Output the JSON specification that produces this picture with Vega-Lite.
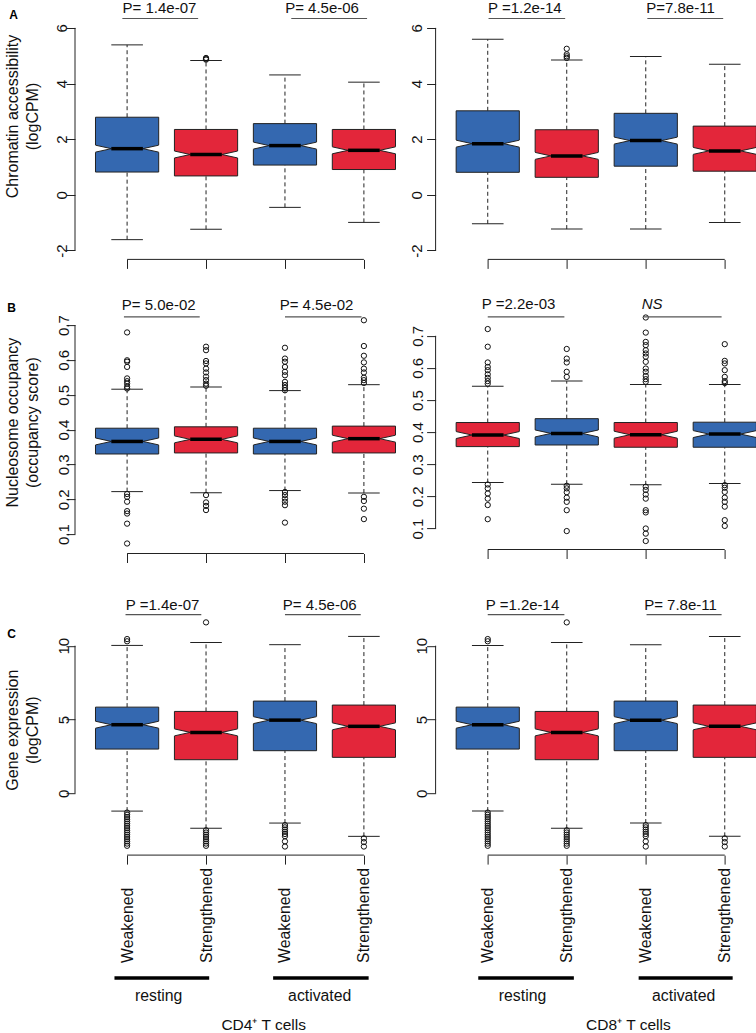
{
"$schema": "https://vega.github.io/schema/vega-lite/v6.json",
"background": "white",
"padding": {"left": 4, "top": 0, "right": 0, "bottom": 0},
"config": {"view": {"stroke": null}, "font": "Liberation Sans", "scale": {"continuousPadding": 0}, "axis": {"labelFont": "Liberation Sans", "titleFont": "Liberation Sans", "labelOverlap": false}},
"datasets": {
"boxes": [
{"panel":"AL","pos":1,"grp":"W","lower":-1.61,"q1":0.82,"med":1.66,"q3":2.79,"upper":5.39},
{"panel":"AL","pos":2,"grp":"S","lower":-1.24,"q1":0.68,"med":1.45,"q3":2.35,"upper":4.83},
{"panel":"AL","pos":3,"grp":"W","lower":-0.45,"q1":1.07,"med":1.77,"q3":2.56,"upper":4.31},
{"panel":"AL","pos":4,"grp":"S","lower":-0.99,"q1":0.91,"med":1.60,"q3":2.35,"upper":4.05},
{"panel":"AR","pos":1,"grp":"W","lower":-1.04,"q1":0.81,"med":1.84,"q3":3.02,"upper":5.59},
{"panel":"AR","pos":2,"grp":"S","lower":-1.23,"q1":0.63,"med":1.40,"q3":2.34,"upper":4.85},
{"panel":"AR","pos":3,"grp":"W","lower":-1.23,"q1":1.03,"med":1.95,"q3":2.93,"upper":4.97},
{"panel":"AR","pos":4,"grp":"S","lower":-0.99,"q1":0.85,"med":1.58,"q3":2.47,"upper":4.69},
{"panel":"BL","pos":1,"grp":"W","lower":0.222,"q1":0.330,"med":0.366,"q3":0.404,"upper":0.516},
{"panel":"BL","pos":2,"grp":"S","lower":0.219,"q1":0.333,"med":0.372,"q3":0.408,"upper":0.522},
{"panel":"BL","pos":3,"grp":"W","lower":0.225,"q1":0.330,"med":0.366,"q3":0.404,"upper":0.512},
{"panel":"BL","pos":4,"grp":"S","lower":0.218,"q1":0.333,"med":0.374,"q3":0.410,"upper":0.529},
{"panel":"BR","pos":1,"grp":"W","lower":0.243,"q1":0.355,"med":0.391,"q3":0.430,"upper":0.543},
{"panel":"BR","pos":2,"grp":"S","lower":0.238,"q1":0.360,"med":0.396,"q3":0.442,"upper":0.559},
{"panel":"BR","pos":3,"grp":"W","lower":0.236,"q1":0.353,"med":0.392,"q3":0.430,"upper":0.548},
{"panel":"BR","pos":4,"grp":"S","lower":0.240,"q1":0.353,"med":0.394,"q3":0.431,"upper":0.548},
{"panel":"C","pos":1,"grp":"W","lower":-1.20,"q1":3.00,"med":4.65,"q3":5.84,"upper":10.02},
{"panel":"C","pos":2,"grp":"S","lower":-2.37,"q1":2.28,"med":4.13,"q3":5.55,"upper":10.22},
{"panel":"C","pos":3,"grp":"W","lower":-2.01,"q1":2.89,"med":4.96,"q3":6.25,"upper":10.07},
{"panel":"C","pos":4,"grp":"S","lower":-2.91,"q1":2.44,"med":4.54,"q3":5.98,"upper":10.63}
],
"outliers": [
{"panel":"AL","pos":2,"v":[4.86,4.89,4.92]},
{"panel":"AR","pos":2,"v":[5.25,5.05,4.98,4.92]},
{"panel":"BL","pos":1,"v":[0.679,0.599,0.595,0.580,0.547,0.539,0.532,0.523,0.518,0.215,0.207,0.193,0.166,0.159,0.130,0.073]},
{"panel":"BL","pos":2,"v":[0.638,0.628,0.597,0.590,0.575,0.564,0.552,0.542,0.532,0.526,0.212,0.191,0.181,0.169]},
{"panel":"BL","pos":3,"v":[0.635,0.604,0.595,0.580,0.566,0.556,0.537,0.528,0.520,0.513,0.221,0.212,0.202,0.193,0.183,0.133]},
{"panel":"BL","pos":4,"v":[0.714,0.640,0.612,0.593,0.575,0.564,0.549,0.542,0.534,0.207,0.195,0.173,0.143]},
{"panel":"BR","pos":1,"v":[0.721,0.666,0.617,0.603,0.593,0.580,0.569,0.559,0.551,0.237,0.225,0.209,0.193,0.173,0.129]},
{"panel":"BR","pos":2,"v":[0.659,0.629,0.617,0.588,0.572,0.233,0.225,0.213,0.196,0.183,0.157,0.092]},
{"panel":"BR","pos":3,"v":[0.757,0.710,0.681,0.671,0.655,0.645,0.635,0.619,0.598,0.588,0.575,0.565,0.557,0.230,0.220,0.206,0.193,0.157,0.150,0.100,0.084,0.061]},
{"panel":"BR","pos":4,"v":[0.674,0.622,0.614,0.593,0.572,0.559,0.553,0.235,0.227,0.214,0.196,0.183,0.168,0.126,0.108]},
{"panel":"C","pos":1,"v":[10.3,10.45,-1.3,-1.45,-1.6,-1.75,-1.9,-2.05,-2.2,-2.35,-2.5,-2.65,-2.8,-2.95,-3.1,-3.25,-3.4,-3.55]},
{"panel":"C","pos":2,"v":[11.58,-2.5,-2.65,-2.8,-2.95,-3.1,-3.25,-3.4,-3.55]},
{"panel":"C","pos":3,"v":[-2.15,-2.3,-2.45,-2.6,-2.75,-2.9,-3.25,-3.6]},
{"panel":"C","pos":4,"v":[-3.05,-3.3,-3.6]}
],
"pvals": [
{"panel":"AL","x1":0.94,"x2":1.90,"xm":1.41,"label":"P= 1.4e-07"},
{"panel":"AL","x1":3.08,"x2":4.04,"xm":3.47,"label":"P= 4.5e-06"},
{"panel":"AR","x1":1.01,"x2":1.98,"xm":1.47,"label":"P =1.2e-14"},
{"panel":"AR","x1":3.02,"x2":3.98,"xm":3.44,"label":"P=7.8e-11"},
{"panel":"BL","x1":0.96,"x2":1.92,"xm":1.40,"label":"P= 5.0e-02"},
{"panel":"BL","x1":3.00,"x2":3.97,"xm":3.40,"label":"P= 4.5e-02"},
{"panel":"BR","x1":1.00,"x2":1.97,"xm":1.39,"label":"P =2.2e-03"},
{"panel":"BR","x1":2.97,"x2":3.96,"xm":3.08,"label":"NS"},
{"panel":"CL","x1":0.98,"x2":1.94,"xm":1.45,"label":"P =1.4e-07"},
{"panel":"CL","x1":3.00,"x2":3.96,"xm":3.44,"label":"P= 4.5e-06"},
{"panel":"CR","x1":1.00,"x2":1.97,"xm":1.44,"label":"P =1.2e-14"},
{"panel":"CR","x1":3.01,"x2":3.96,"xm":3.44,"label":"P= 7.8e-11"}
],
"groups": [
{"panel":"CL","x1":0.84,"x2":2.04,"xm":1.40,"label":"resting"},
{"panel":"CL","x1":2.85,"x2":4.06,"xm":3.44,"label":"activated"},
{"panel":"CR","x1":0.88,"x2":2.09,"xm":1.44,"label":"resting"},
{"panel":"CR","x1":2.91,"x2":4.10,"xm":3.48,"label":"activated"}
],
"cells": [
{"panel":"CL","xm":2.73,"label":"CD4⁺ T cells"},
{"panel":"CR","xm":2.78,"label":"CD8⁺ T cells"}
]
},
"columns": 2,
"spacing": {"row": 53.1, "column": 19.6},
"bounds": "flush",
"align": "each",
"concat": [
{"width": 341, "height": 240.4, "layer": [
{"data":{"name":"boxes"},"transform":[{"filter":"datum.panel=='AL'"}],"mark":{"type":"rule","strokeDash":[4,3],"color":"#222","strokeWidth":1},
 "encoding":{"x":{"field":"pos","type":"quantitative","scale":{"domain":[0.34,4.66],"nice":false,"zero":false,"padding":0},"axis":{"values":[1,2,3,4],"domain":false,"grid":false,"ticks":true,"tickSize":9,"tickColor":"#222","labels":false,"title":null}},
 "y":{"field":"q3","type":"quantitative","scale":{"domain":[-2.32,6.32],"nice":false,"zero":false,"padding":0},"axis":{"values":[-2,0,2,4,6],"tickCount":20,"format":"d","labelExpr":"datum.value < 0 ? '-' + (-datum.value) : datum.label","domain":false,"grid":false,"tickSize":9,"tickColor":"#222","labelAngle":-90,"labelAlign":"center","labelBaseline":"bottom","labelPadding":-3,"labelFontSize":15,"labelColor":"#111","labelFlush":false,"labelOverlap":false,"labelBound":false,"title":["Chromatin accessibility","(logCPM)"],"titleFontSize":16,"titleFontWeight":"normal","titleColor":"#111","titleAngle":-90,"titleAlign":"center","titleBaseline":"middle","titleX":-62.4,"titleY":97,"titleLineHeight":20}},
 "y2":{"field":"upper"}}},
{"data":{"name":"boxes"},"transform":[{"filter":"datum.panel=='AL'"}],"mark":{"type":"rule","strokeDash":[4,3],"color":"#222","strokeWidth":1},"encoding":{"x":{"field":"pos","type":"quantitative"},"y":{"field":"lower","type":"quantitative"},"y2":{"field":"q1"}}},
{"data":{"name":"boxes"},"transform":[{"filter":"datum.panel=='AL'"}],"mark":{"type":"tick","orient":"horizontal","size":31.6,"thickness":1,"color":"#222","opacity":1},"encoding":{"x":{"field":"pos","type":"quantitative"},"y":{"field":"upper","type":"quantitative"}}},
{"data":{"name":"boxes"},"transform":[{"filter":"datum.panel=='AL'"}],"mark":{"type":"tick","orient":"horizontal","size":31.6,"thickness":1,"color":"#222","opacity":1},"encoding":{"x":{"field":"pos","type":"quantitative"},"y":{"field":"lower","type":"quantitative"}}},
{"data":{"name":"boxes"},"transform":[{"filter":"datum.panel=='AL' && datum.grp=='W'"}],"mark":{"type":"bar","width":63.2,"fill":"#3468B0","stroke":"#222","strokeWidth":1},"encoding":{"x":{"field":"pos","type":"quantitative"},"y":{"field":"q1","type":"quantitative"},"y2":{"field":"q3"}}},
{"data":{"name":"boxes"},"transform":[{"filter":"datum.panel=='AL' && datum.grp=='S'"}],"mark":{"type":"bar","width":63.2,"fill":"#E3263A","stroke":"#222","strokeWidth":1},"encoding":{"x":{"field":"pos","type":"quantitative"},"y":{"field":"q1","type":"quantitative"},"y2":{"field":"q3"}}},
{"data":{"name":"boxes"},"transform":[{"filter":"datum.panel=='AL'"}],"mark":{"type":"point","shape":"M-1.04,-0.12L-0.5,0L-1.04,0.12Z M1.04,-0.12L0.5,0L1.04,0.12Z","size":3994,"filled":true,"fill":"white","strokeWidth":0,"opacity":1},"encoding":{"x":{"field":"pos","type":"quantitative"},"y":{"field":"med","type":"quantitative"}}},
{"data":{"name":"boxes"},"transform":[{"filter":"datum.panel=='AL'"}],"mark":{"type":"point","shape":"M-1,-0.11L-0.5,0L-1,0.11M1,-0.11L0.5,0L1,0.11","size":3994,"filled":false,"stroke":"#222","strokeWidth":1,"opacity":1},"encoding":{"x":{"field":"pos","type":"quantitative"},"y":{"field":"med","type":"quantitative"}}},
{"data":{"name":"boxes"},"transform":[{"filter":"datum.panel=='AL'"}],"mark":{"type":"tick","orient":"horizontal","size":31.6,"thickness":3.5,"color":"#000","opacity":1},"encoding":{"x":{"field":"pos","type":"quantitative"},"y":{"field":"med","type":"quantitative"}}},
{"data":{"name":"outliers"},"transform":[{"filter":"datum.panel=='AL'"},{"flatten":["v"]}],"mark":{"type":"point","shape":"circle","filled":false,"size":28,"stroke":"#111","strokeWidth":1,"opacity":1},"encoding":{"x":{"field":"pos","type":"quantitative"},"y":{"field":"v","type":"quantitative"}}},
{"data":{"name":"pvals"},"transform":[{"filter":"datum.panel=='AL'"}],"mark":{"type":"rule","color":"#555","strokeWidth":1.2},"encoding":{"x":{"field":"x1","type":"quantitative"},"x2":{"field":"x2"},"y":{"datum":6.338}}},
{"data":{"name":"pvals"},"transform":[{"filter":"datum.panel=='AL' && datum.label!='NS'"}],"mark":{"type":"text","fontSize":15,"align":"center","baseline":"middle","color":"#111"},"encoding":{"x":{"field":"xm","type":"quantitative"},"y":{"datum":6.718},"text":{"field":"label"}}},
{"data":{"values":[{}]},"mark":{"type":"rule","color":"#222","strokeWidth":1},"encoding":{"x":{"datum":0.34},"y":{"datum":-2},"y2":{"datum":6}}},
{"data":{"values":[{}]},"mark":{"type":"rule","color":"#222","strokeWidth":1},"encoding":{"x":{"datum":1},"x2":{"datum":4},"y":{"datum":-2.32}}},
{"data":{"values":[{}]},"mark":{"type":"text","text":"A","fontSize":12,"fontWeight":"bold","align":"center","baseline":"middle","color":"#000"},"encoding":{"x":{"datum":-0.437},"y":{"datum":6.449}}}
]},
{"width": 321, "height": 240.4, "layer": [
{"data":{"name":"boxes"},"transform":[{"filter":"datum.panel=='AR'"}],"mark":{"type":"rule","strokeDash":[4,3],"color":"#222","strokeWidth":1},
 "encoding":{"x":{"field":"pos","type":"quantitative","scale":{"domain":[0.34,4.403],"nice":false,"zero":false,"padding":0},"axis":{"values":[1,2,3,4],"domain":false,"grid":false,"ticks":true,"tickSize":9,"tickColor":"#222","labels":false,"title":null}},
 "y":{"field":"q3","type":"quantitative","scale":{"domain":[-2.32,6.32],"nice":false,"zero":false,"padding":0},"axis":{"values":[-2,0,2,4,6],"tickCount":20,"format":"d","labelExpr":"datum.value < 0 ? '-' + (-datum.value) : datum.label","domain":false,"grid":false,"tickSize":9,"tickColor":"#222","labelAngle":-90,"labelAlign":"center","labelBaseline":"bottom","labelPadding":2,"labelFontSize":15,"labelColor":"#111","labelFlush":false,"labelOverlap":false,"labelBound":false,"title":null}},
 "y2":{"field":"upper"}}},
{"data":{"name":"boxes"},"transform":[{"filter":"datum.panel=='AR'"}],"mark":{"type":"rule","strokeDash":[4,3],"color":"#222","strokeWidth":1},"encoding":{"x":{"field":"pos","type":"quantitative"},"y":{"field":"lower","type":"quantitative"},"y2":{"field":"q1"}}},
{"data":{"name":"boxes"},"transform":[{"filter":"datum.panel=='AR'"}],"mark":{"type":"tick","orient":"horizontal","size":31.6,"thickness":1,"color":"#222","opacity":1},"encoding":{"x":{"field":"pos","type":"quantitative"},"y":{"field":"upper","type":"quantitative"}}},
{"data":{"name":"boxes"},"transform":[{"filter":"datum.panel=='AR'"}],"mark":{"type":"tick","orient":"horizontal","size":31.6,"thickness":1,"color":"#222","opacity":1},"encoding":{"x":{"field":"pos","type":"quantitative"},"y":{"field":"lower","type":"quantitative"}}},
{"data":{"name":"boxes"},"transform":[{"filter":"datum.panel=='AR' && datum.grp=='W'"}],"mark":{"type":"bar","width":63.2,"fill":"#3468B0","stroke":"#222","strokeWidth":1},"encoding":{"x":{"field":"pos","type":"quantitative"},"y":{"field":"q1","type":"quantitative"},"y2":{"field":"q3"}}},
{"data":{"name":"boxes"},"transform":[{"filter":"datum.panel=='AR' && datum.grp=='S'"}],"mark":{"type":"bar","width":63.2,"fill":"#E3263A","stroke":"#222","strokeWidth":1},"encoding":{"x":{"field":"pos","type":"quantitative"},"y":{"field":"q1","type":"quantitative"},"y2":{"field":"q3"}}},
{"data":{"name":"boxes"},"transform":[{"filter":"datum.panel=='AR'"}],"mark":{"type":"point","shape":"M-1.04,-0.12L-0.5,0L-1.04,0.12Z M1.04,-0.12L0.5,0L1.04,0.12Z","size":3994,"filled":true,"fill":"white","strokeWidth":0,"opacity":1},"encoding":{"x":{"field":"pos","type":"quantitative"},"y":{"field":"med","type":"quantitative"}}},
{"data":{"name":"boxes"},"transform":[{"filter":"datum.panel=='AR'"}],"mark":{"type":"point","shape":"M-1,-0.11L-0.5,0L-1,0.11M1,-0.11L0.5,0L1,0.11","size":3994,"filled":false,"stroke":"#222","strokeWidth":1,"opacity":1},"encoding":{"x":{"field":"pos","type":"quantitative"},"y":{"field":"med","type":"quantitative"}}},
{"data":{"name":"boxes"},"transform":[{"filter":"datum.panel=='AR'"}],"mark":{"type":"tick","orient":"horizontal","size":31.6,"thickness":3.5,"color":"#000","opacity":1},"encoding":{"x":{"field":"pos","type":"quantitative"},"y":{"field":"med","type":"quantitative"}}},
{"data":{"name":"outliers"},"transform":[{"filter":"datum.panel=='AR'"},{"flatten":["v"]}],"mark":{"type":"point","shape":"circle","filled":false,"size":28,"stroke":"#111","strokeWidth":1,"opacity":1},"encoding":{"x":{"field":"pos","type":"quantitative"},"y":{"field":"v","type":"quantitative"}}},
{"data":{"name":"pvals"},"transform":[{"filter":"datum.panel=='AR'"}],"mark":{"type":"rule","color":"#555","strokeWidth":1.2},"encoding":{"x":{"field":"x1","type":"quantitative"},"x2":{"field":"x2"},"y":{"datum":6.338}}},
{"data":{"name":"pvals"},"transform":[{"filter":"datum.panel=='AR' && datum.label!='NS'"}],"mark":{"type":"text","fontSize":15,"align":"center","baseline":"middle","color":"#111"},"encoding":{"x":{"field":"xm","type":"quantitative"},"y":{"datum":6.718},"text":{"field":"label"}}},
{"data":{"values":[{}]},"mark":{"type":"rule","color":"#222","strokeWidth":1},"encoding":{"x":{"datum":0.34},"y":{"datum":-2},"y2":{"datum":6}}},
{"data":{"values":[{}]},"mark":{"type":"rule","color":"#222","strokeWidth":1},"encoding":{"x":{"datum":1},"x2":{"datum":4},"y":{"datum":-2.32}}}
]},
{"width": 341, "height": 240.4, "layer": [
{"data":{"name":"boxes"},"transform":[{"filter":"datum.panel=='BL'"}],"mark":{"type":"rule","strokeDash":[4,3],"color":"#222","strokeWidth":1},
 "encoding":{"x":{"field":"pos","type":"quantitative","scale":{"domain":[0.34,4.66],"nice":false,"zero":false,"padding":0},"axis":{"values":[1,2,3,4],"domain":false,"grid":false,"ticks":true,"tickSize":9,"tickColor":"#222","labels":false,"title":null}},
 "y":{"field":"q3","type":"quantitative","scale":{"domain":[0.0443,0.7345],"nice":false,"zero":false,"padding":0},"axis":{"values":[0.1,0.2,0.3,0.4,0.5,0.6,0.7],"tickCount":20,"format":".1f","domain":false,"grid":false,"tickSize":9,"tickColor":"#222","labelAngle":-90,"labelAlign":"center","labelBaseline":"bottom","labelPadding":-5,"labelFontSize":15,"labelColor":"#111","labelFlush":false,"labelOverlap":false,"labelBound":false,"title":["Nucleosome occupancy","(occupancy score)"],"titleFontSize":16,"titleFontWeight":"normal","titleColor":"#111","titleAngle":-90,"titleAlign":"center","titleBaseline":"middle","titleX":-62.4,"titleY":109,"titleLineHeight":20}},
 "y2":{"field":"upper"}}},
{"data":{"name":"boxes"},"transform":[{"filter":"datum.panel=='BL'"}],"mark":{"type":"rule","strokeDash":[4,3],"color":"#222","strokeWidth":1},"encoding":{"x":{"field":"pos","type":"quantitative"},"y":{"field":"lower","type":"quantitative"},"y2":{"field":"q1"}}},
{"data":{"name":"boxes"},"transform":[{"filter":"datum.panel=='BL'"}],"mark":{"type":"tick","orient":"horizontal","size":31.6,"thickness":1,"color":"#222","opacity":1},"encoding":{"x":{"field":"pos","type":"quantitative"},"y":{"field":"upper","type":"quantitative"}}},
{"data":{"name":"boxes"},"transform":[{"filter":"datum.panel=='BL'"}],"mark":{"type":"tick","orient":"horizontal","size":31.6,"thickness":1,"color":"#222","opacity":1},"encoding":{"x":{"field":"pos","type":"quantitative"},"y":{"field":"lower","type":"quantitative"}}},
{"data":{"name":"boxes"},"transform":[{"filter":"datum.panel=='BL' && datum.grp=='W'"}],"mark":{"type":"bar","width":63.2,"fill":"#3468B0","stroke":"#222","strokeWidth":1},"encoding":{"x":{"field":"pos","type":"quantitative"},"y":{"field":"q1","type":"quantitative"},"y2":{"field":"q3"}}},
{"data":{"name":"boxes"},"transform":[{"filter":"datum.panel=='BL' && datum.grp=='S'"}],"mark":{"type":"bar","width":63.2,"fill":"#E3263A","stroke":"#222","strokeWidth":1},"encoding":{"x":{"field":"pos","type":"quantitative"},"y":{"field":"q1","type":"quantitative"},"y2":{"field":"q3"}}},
{"data":{"name":"boxes"},"transform":[{"filter":"datum.panel=='BL'"}],"mark":{"type":"point","shape":"M-1.04,-0.12L-0.5,0L-1.04,0.12Z M1.04,-0.12L0.5,0L1.04,0.12Z","size":3994,"filled":true,"fill":"white","strokeWidth":0,"opacity":1},"encoding":{"x":{"field":"pos","type":"quantitative"},"y":{"field":"med","type":"quantitative"}}},
{"data":{"name":"boxes"},"transform":[{"filter":"datum.panel=='BL'"}],"mark":{"type":"point","shape":"M-1,-0.11L-0.5,0L-1,0.11M1,-0.11L0.5,0L1,0.11","size":3994,"filled":false,"stroke":"#222","strokeWidth":1,"opacity":1},"encoding":{"x":{"field":"pos","type":"quantitative"},"y":{"field":"med","type":"quantitative"}}},
{"data":{"name":"boxes"},"transform":[{"filter":"datum.panel=='BL'"}],"mark":{"type":"tick","orient":"horizontal","size":31.6,"thickness":3.5,"color":"#000","opacity":1},"encoding":{"x":{"field":"pos","type":"quantitative"},"y":{"field":"med","type":"quantitative"}}},
{"data":{"name":"outliers"},"transform":[{"filter":"datum.panel=='BL'"},{"flatten":["v"]}],"mark":{"type":"point","shape":"circle","filled":false,"size":28,"stroke":"#111","strokeWidth":1,"opacity":1},"encoding":{"x":{"field":"pos","type":"quantitative"},"y":{"field":"v","type":"quantitative"}}},
{"data":{"name":"pvals"},"transform":[{"filter":"datum.panel=='BL'"}],"mark":{"type":"rule","color":"#555","strokeWidth":1.2},"encoding":{"x":{"field":"x1","type":"quantitative"},"x2":{"field":"x2"},"y":{"datum":0.7238}}},
{"data":{"name":"pvals"},"transform":[{"filter":"datum.panel=='BL' && datum.label!='NS'"}],"mark":{"type":"text","fontSize":15,"align":"center","baseline":"middle","color":"#111"},"encoding":{"x":{"field":"xm","type":"quantitative"},"y":{"datum":0.7583},"text":{"field":"label"}}},
{"data":{"values":[{}]},"mark":{"type":"rule","color":"#222","strokeWidth":1},"encoding":{"x":{"datum":0.34},"y":{"datum":0.1},"y2":{"datum":0.7}}},
{"data":{"values":[{}]},"mark":{"type":"rule","color":"#222","strokeWidth":1},"encoding":{"x":{"datum":1},"x2":{"datum":4},"y":{"datum":0.0443}}},
{"data":{"values":[{}]},"mark":{"type":"text","text":"B","fontSize":12,"fontWeight":"bold","align":"center","baseline":"middle","color":"#000"},"encoding":{"x":{"datum":-0.465},"y":{"datum":0.7502}}}
]},
{"width": 321, "height": 236.4, "layer": [
{"data":{"name":"boxes"},"transform":[{"filter":"datum.panel=='BR'"}],"mark":{"type":"rule","strokeDash":[4,3],"color":"#222","strokeWidth":1},
 "encoding":{"x":{"field":"pos","type":"quantitative","scale":{"domain":[0.34,4.403],"nice":false,"zero":false,"padding":0},"axis":{"values":[1,2,3,4],"domain":false,"grid":false,"ticks":true,"tickSize":9,"tickColor":"#222","labels":false,"title":null}},
 "y":{"field":"q3","type":"quantitative","scale":{"domain":[0.0346,0.7707],"nice":false,"zero":false,"padding":0},"axis":{"values":[0.1,0.2,0.3,0.4,0.5,0.6,0.7],"tickCount":20,"format":".1f","domain":false,"grid":false,"tickSize":9,"tickColor":"#222","labelAngle":-90,"labelAlign":"center","labelBaseline":"bottom","labelPadding":1,"labelFontSize":15,"labelColor":"#111","labelFlush":false,"labelOverlap":false,"labelBound":false,"title":null}},
 "y2":{"field":"upper"}}},
{"data":{"name":"boxes"},"transform":[{"filter":"datum.panel=='BR'"}],"mark":{"type":"rule","strokeDash":[4,3],"color":"#222","strokeWidth":1},"encoding":{"x":{"field":"pos","type":"quantitative"},"y":{"field":"lower","type":"quantitative"},"y2":{"field":"q1"}}},
{"data":{"name":"boxes"},"transform":[{"filter":"datum.panel=='BR'"}],"mark":{"type":"tick","orient":"horizontal","size":31.6,"thickness":1,"color":"#222","opacity":1},"encoding":{"x":{"field":"pos","type":"quantitative"},"y":{"field":"upper","type":"quantitative"}}},
{"data":{"name":"boxes"},"transform":[{"filter":"datum.panel=='BR'"}],"mark":{"type":"tick","orient":"horizontal","size":31.6,"thickness":1,"color":"#222","opacity":1},"encoding":{"x":{"field":"pos","type":"quantitative"},"y":{"field":"lower","type":"quantitative"}}},
{"data":{"name":"boxes"},"transform":[{"filter":"datum.panel=='BR' && datum.grp=='S'"}],"mark":{"type":"bar","width":63.2,"fill":"#3468B0","stroke":"#222","strokeWidth":1},"encoding":{"x":{"field":"pos","type":"quantitative"},"y":{"field":"q1","type":"quantitative"},"y2":{"field":"q3"}}},
{"data":{"name":"boxes"},"transform":[{"filter":"datum.panel=='BR' && datum.grp=='W'"}],"mark":{"type":"bar","width":63.2,"fill":"#E3263A","stroke":"#222","strokeWidth":1},"encoding":{"x":{"field":"pos","type":"quantitative"},"y":{"field":"q1","type":"quantitative"},"y2":{"field":"q3"}}},
{"data":{"name":"boxes"},"transform":[{"filter":"datum.panel=='BR'"}],"mark":{"type":"point","shape":"M-1.04,-0.12L-0.5,0L-1.04,0.12Z M1.04,-0.12L0.5,0L1.04,0.12Z","size":3994,"filled":true,"fill":"white","strokeWidth":0,"opacity":1},"encoding":{"x":{"field":"pos","type":"quantitative"},"y":{"field":"med","type":"quantitative"}}},
{"data":{"name":"boxes"},"transform":[{"filter":"datum.panel=='BR'"}],"mark":{"type":"point","shape":"M-1,-0.11L-0.5,0L-1,0.11M1,-0.11L0.5,0L1,0.11","size":3994,"filled":false,"stroke":"#222","strokeWidth":1,"opacity":1},"encoding":{"x":{"field":"pos","type":"quantitative"},"y":{"field":"med","type":"quantitative"}}},
{"data":{"name":"boxes"},"transform":[{"filter":"datum.panel=='BR'"}],"mark":{"type":"tick","orient":"horizontal","size":31.6,"thickness":3.5,"color":"#000","opacity":1},"encoding":{"x":{"field":"pos","type":"quantitative"},"y":{"field":"med","type":"quantitative"}}},
{"data":{"name":"outliers"},"transform":[{"filter":"datum.panel=='BR'"},{"flatten":["v"]}],"mark":{"type":"point","shape":"circle","filled":false,"size":28,"stroke":"#111","strokeWidth":1,"opacity":1},"encoding":{"x":{"field":"pos","type":"quantitative"},"y":{"field":"v","type":"quantitative"}}},
{"data":{"name":"pvals"},"transform":[{"filter":"datum.panel=='BR'"}],"mark":{"type":"rule","color":"#555","strokeWidth":1.2},"encoding":{"x":{"field":"x1","type":"quantitative"},"x2":{"field":"x2"},"y":{"datum":0.7592}}},
{"data":{"name":"pvals"},"transform":[{"filter":"datum.panel=='BR' && datum.label!='NS'"}],"mark":{"type":"text","fontSize":15,"align":"center","baseline":"middle","color":"#111"},"encoding":{"x":{"field":"xm","type":"quantitative"},"y":{"datum":0.7996},"text":{"field":"label"}}},
{"data":{"name":"pvals"},"transform":[{"filter":"datum.panel=='BR' && datum.label=='NS'"}],"mark":{"type":"text","fontSize":15,"fontStyle":"italic","align":"center","baseline":"middle","color":"#111"},"encoding":{"x":{"field":"xm","type":"quantitative"},"y":{"datum":0.7996},"text":{"field":"label"}}},
{"data":{"values":[{}]},"mark":{"type":"rule","color":"#222","strokeWidth":1},"encoding":{"x":{"datum":0.34},"y":{"datum":0.1},"y2":{"datum":0.7}}},
{"data":{"values":[{}]},"mark":{"type":"rule","color":"#222","strokeWidth":1},"encoding":{"x":{"datum":1},"x2":{"datum":4},"y":{"datum":0.0346}}}
]},
{"width": 341, "height": 247.9, "layer": [
{"data":{"name":"boxes"},"transform":[{"filter":"datum.panel=='C'"}],"mark":{"type":"rule","strokeDash":[4,3],"color":"#222","strokeWidth":1},
 "encoding":{"x":{"field":"pos","type":"quantitative","scale":{"domain":[0.34,4.66],"nice":false,"zero":false,"padding":0},"axis":{"values":[1,2,3,4],"domain":false,"grid":false,"ticks":true,"tickSize":9,"tickColor":"#222","labels":true,"labelExpr":"datum.value % 2 == 1 ? 'Weakened' : 'Strengthened'","labelAngle":-90,"labelAlign":"left","labelBaseline":"middle","labelPadding":98.3,"labelFontSize":15.8,"labelColor":"#111","labelOverlap":false,"labelBound":false,"labelFlush":false,"title":null}},
 "y":{"field":"q3","type":"quantitative","scale":{"domain":[-4.18,12.608],"nice":false,"zero":false,"padding":0},"axis":{"values":[0,5,10],"tickCount":20,"format":"d","domain":false,"grid":false,"tickSize":9,"tickColor":"#222","labelAngle":-90,"labelAlign":"center","labelBaseline":"bottom","labelPadding":-5,"labelFontSize":15,"labelColor":"#111","labelFlush":false,"labelOverlap":false,"labelBound":false,"title":["Gene expression","(logCPM)"],"titleFontSize":16,"titleFontWeight":"normal","titleColor":"#111","titleAngle":-90,"titleAlign":"center","titleBaseline":"middle","titleX":-62.4,"titleY":122.5,"titleLineHeight":20}},
 "y2":{"field":"upper"}}},
{"data":{"name":"boxes"},"transform":[{"filter":"datum.panel=='C'"}],"mark":{"type":"rule","strokeDash":[4,3],"color":"#222","strokeWidth":1},"encoding":{"x":{"field":"pos","type":"quantitative"},"y":{"field":"lower","type":"quantitative"},"y2":{"field":"q1"}}},
{"data":{"name":"boxes"},"transform":[{"filter":"datum.panel=='C'"}],"mark":{"type":"tick","orient":"horizontal","size":31.6,"thickness":1,"color":"#222","opacity":1},"encoding":{"x":{"field":"pos","type":"quantitative"},"y":{"field":"upper","type":"quantitative"}}},
{"data":{"name":"boxes"},"transform":[{"filter":"datum.panel=='C'"}],"mark":{"type":"tick","orient":"horizontal","size":31.6,"thickness":1,"color":"#222","opacity":1},"encoding":{"x":{"field":"pos","type":"quantitative"},"y":{"field":"lower","type":"quantitative"}}},
{"data":{"name":"boxes"},"transform":[{"filter":"datum.panel=='C' && datum.grp=='W'"}],"mark":{"type":"bar","width":63.2,"fill":"#3468B0","stroke":"#222","strokeWidth":1},"encoding":{"x":{"field":"pos","type":"quantitative"},"y":{"field":"q1","type":"quantitative"},"y2":{"field":"q3"}}},
{"data":{"name":"boxes"},"transform":[{"filter":"datum.panel=='C' && datum.grp=='S'"}],"mark":{"type":"bar","width":63.2,"fill":"#E3263A","stroke":"#222","strokeWidth":1},"encoding":{"x":{"field":"pos","type":"quantitative"},"y":{"field":"q1","type":"quantitative"},"y2":{"field":"q3"}}},
{"data":{"name":"boxes"},"transform":[{"filter":"datum.panel=='C'"}],"mark":{"type":"point","shape":"M-1.04,-0.12L-0.5,0L-1.04,0.12Z M1.04,-0.12L0.5,0L1.04,0.12Z","size":3994,"filled":true,"fill":"white","strokeWidth":0,"opacity":1},"encoding":{"x":{"field":"pos","type":"quantitative"},"y":{"field":"med","type":"quantitative"}}},
{"data":{"name":"boxes"},"transform":[{"filter":"datum.panel=='C'"}],"mark":{"type":"point","shape":"M-1,-0.11L-0.5,0L-1,0.11M1,-0.11L0.5,0L1,0.11","size":3994,"filled":false,"stroke":"#222","strokeWidth":1,"opacity":1},"encoding":{"x":{"field":"pos","type":"quantitative"},"y":{"field":"med","type":"quantitative"}}},
{"data":{"name":"boxes"},"transform":[{"filter":"datum.panel=='C'"}],"mark":{"type":"tick","orient":"horizontal","size":31.6,"thickness":3.5,"color":"#000","opacity":1},"encoding":{"x":{"field":"pos","type":"quantitative"},"y":{"field":"med","type":"quantitative"}}},
{"data":{"name":"outliers"},"transform":[{"filter":"datum.panel=='C'"},{"flatten":["v"]}],"mark":{"type":"point","shape":"circle","filled":false,"size":28,"stroke":"#111","strokeWidth":1,"opacity":1},"encoding":{"x":{"field":"pos","type":"quantitative"},"y":{"field":"v","type":"quantitative"}}},
{"data":{"name":"pvals"},"transform":[{"filter":"datum.panel=='CL'"}],"mark":{"type":"rule","color":"#555","strokeWidth":1.2},"encoding":{"x":{"field":"x1","type":"quantitative"},"x2":{"field":"x2"},"y":{"datum":12.099}}},
{"data":{"name":"pvals"},"transform":[{"filter":"datum.panel=='CL'"}],"mark":{"type":"text","fontSize":15,"align":"center","baseline":"middle","color":"#111"},"encoding":{"x":{"field":"xm","type":"quantitative"},"y":{"datum":12.729},"text":{"field":"label"}}},
{"data":{"values":[{}]},"mark":{"type":"rule","color":"#222","strokeWidth":1},"encoding":{"x":{"datum":0.34},"y":{"datum":0},"y2":{"datum":10}}},
{"data":{"values":[{}]},"mark":{"type":"rule","color":"#222","strokeWidth":1},"encoding":{"x":{"datum":1},"x2":{"datum":4},"y":{"datum":-4.18}}},
{"data":{"values":[{}]},"mark":{"type":"text","text":"C","fontSize":12,"fontWeight":"bold","align":"center","baseline":"middle","color":"#000"},"encoding":{"x":{"datum":-0.465},"y":{"datum":10.785}}},
{"data":{"name":"groups"},"transform":[{"filter":"datum.panel=='CL'"}],"mark":{"type":"rule","color":"#000","strokeWidth":3.5},"encoding":{"x":{"field":"x1","type":"quantitative"},"x2":{"field":"x2"},"y":{"datum":-12.51}}},
{"data":{"name":"groups"},"transform":[{"filter":"datum.panel=='CL'"}],"mark":{"type":"text","fontSize":15.8,"align":"center","baseline":"alphabetic","color":"#111"},"encoding":{"x":{"field":"xm","type":"quantitative"},"y":{"datum":-14.06},"text":{"field":"label"}}},
{"data":{"name":"cells"},"transform":[{"filter":"datum.panel=='CL'"}],"mark":{"type":"text","fontSize":15.5,"align":"center","baseline":"alphabetic","color":"#111"},"encoding":{"x":{"field":"xm","type":"quantitative"},"y":{"datum":-16.0},"text":{"field":"label"}}}
]},
{"width": 321, "height": 247.9, "layer": [
{"data":{"name":"boxes"},"transform":[{"filter":"datum.panel=='C'"}],"mark":{"type":"rule","strokeDash":[4,3],"color":"#222","strokeWidth":1},
 "encoding":{"x":{"field":"pos","type":"quantitative","scale":{"domain":[0.34,4.403],"nice":false,"zero":false,"padding":0},"axis":{"values":[1,2,3,4],"domain":false,"grid":false,"ticks":true,"tickSize":9,"tickColor":"#222","labels":true,"labelExpr":"datum.value % 2 == 1 ? 'Weakened' : 'Strengthened'","labelAngle":-90,"labelAlign":"left","labelBaseline":"middle","labelPadding":98.3,"labelFontSize":15.8,"labelColor":"#111","labelOverlap":false,"labelBound":false,"labelFlush":false,"title":null}},
 "y":{"field":"q3","type":"quantitative","scale":{"domain":[-4.18,12.608],"nice":false,"zero":false,"padding":0},"axis":{"values":[0,5,10],"tickCount":20,"format":"d","domain":false,"grid":false,"tickSize":9,"tickColor":"#222","labelAngle":-90,"labelAlign":"center","labelBaseline":"bottom","labelPadding":-3,"labelFontSize":15,"labelColor":"#111","labelFlush":false,"labelOverlap":false,"labelBound":false,"title":null}},
 "y2":{"field":"upper"}}},
{"data":{"name":"boxes"},"transform":[{"filter":"datum.panel=='C'"}],"mark":{"type":"rule","strokeDash":[4,3],"color":"#222","strokeWidth":1},"encoding":{"x":{"field":"pos","type":"quantitative"},"y":{"field":"lower","type":"quantitative"},"y2":{"field":"q1"}}},
{"data":{"name":"boxes"},"transform":[{"filter":"datum.panel=='C'"}],"mark":{"type":"tick","orient":"horizontal","size":31.6,"thickness":1,"color":"#222","opacity":1},"encoding":{"x":{"field":"pos","type":"quantitative"},"y":{"field":"upper","type":"quantitative"}}},
{"data":{"name":"boxes"},"transform":[{"filter":"datum.panel=='C'"}],"mark":{"type":"tick","orient":"horizontal","size":31.6,"thickness":1,"color":"#222","opacity":1},"encoding":{"x":{"field":"pos","type":"quantitative"},"y":{"field":"lower","type":"quantitative"}}},
{"data":{"name":"boxes"},"transform":[{"filter":"datum.panel=='C' && datum.grp=='W'"}],"mark":{"type":"bar","width":63.2,"fill":"#3468B0","stroke":"#222","strokeWidth":1},"encoding":{"x":{"field":"pos","type":"quantitative"},"y":{"field":"q1","type":"quantitative"},"y2":{"field":"q3"}}},
{"data":{"name":"boxes"},"transform":[{"filter":"datum.panel=='C' && datum.grp=='S'"}],"mark":{"type":"bar","width":63.2,"fill":"#E3263A","stroke":"#222","strokeWidth":1},"encoding":{"x":{"field":"pos","type":"quantitative"},"y":{"field":"q1","type":"quantitative"},"y2":{"field":"q3"}}},
{"data":{"name":"boxes"},"transform":[{"filter":"datum.panel=='C'"}],"mark":{"type":"point","shape":"M-1.04,-0.12L-0.5,0L-1.04,0.12Z M1.04,-0.12L0.5,0L1.04,0.12Z","size":3994,"filled":true,"fill":"white","strokeWidth":0,"opacity":1},"encoding":{"x":{"field":"pos","type":"quantitative"},"y":{"field":"med","type":"quantitative"}}},
{"data":{"name":"boxes"},"transform":[{"filter":"datum.panel=='C'"}],"mark":{"type":"point","shape":"M-1,-0.11L-0.5,0L-1,0.11M1,-0.11L0.5,0L1,0.11","size":3994,"filled":false,"stroke":"#222","strokeWidth":1,"opacity":1},"encoding":{"x":{"field":"pos","type":"quantitative"},"y":{"field":"med","type":"quantitative"}}},
{"data":{"name":"boxes"},"transform":[{"filter":"datum.panel=='C'"}],"mark":{"type":"tick","orient":"horizontal","size":31.6,"thickness":3.5,"color":"#000","opacity":1},"encoding":{"x":{"field":"pos","type":"quantitative"},"y":{"field":"med","type":"quantitative"}}},
{"data":{"name":"outliers"},"transform":[{"filter":"datum.panel=='C'"},{"flatten":["v"]}],"mark":{"type":"point","shape":"circle","filled":false,"size":28,"stroke":"#111","strokeWidth":1,"opacity":1},"encoding":{"x":{"field":"pos","type":"quantitative"},"y":{"field":"v","type":"quantitative"}}},
{"data":{"name":"pvals"},"transform":[{"filter":"datum.panel=='CR'"}],"mark":{"type":"rule","color":"#555","strokeWidth":1.2},"encoding":{"x":{"field":"x1","type":"quantitative"},"x2":{"field":"x2"},"y":{"datum":12.099}}},
{"data":{"name":"pvals"},"transform":[{"filter":"datum.panel=='CR'"}],"mark":{"type":"text","fontSize":15,"align":"center","baseline":"middle","color":"#111"},"encoding":{"x":{"field":"xm","type":"quantitative"},"y":{"datum":12.729},"text":{"field":"label"}}},
{"data":{"values":[{}]},"mark":{"type":"rule","color":"#222","strokeWidth":1},"encoding":{"x":{"datum":0.34},"y":{"datum":0},"y2":{"datum":10}}},
{"data":{"values":[{}]},"mark":{"type":"rule","color":"#222","strokeWidth":1},"encoding":{"x":{"datum":1},"x2":{"datum":4},"y":{"datum":-4.18}}},
{"data":{"name":"groups"},"transform":[{"filter":"datum.panel=='CR'"}],"mark":{"type":"rule","color":"#000","strokeWidth":3.5},"encoding":{"x":{"field":"x1","type":"quantitative"},"x2":{"field":"x2"},"y":{"datum":-12.51}}},
{"data":{"name":"groups"},"transform":[{"filter":"datum.panel=='CR'"}],"mark":{"type":"text","fontSize":15.8,"align":"center","baseline":"alphabetic","color":"#111"},"encoding":{"x":{"field":"xm","type":"quantitative"},"y":{"datum":-14.06},"text":{"field":"label"}}},
{"data":{"name":"cells"},"transform":[{"filter":"datum.panel=='CR'"}],"mark":{"type":"text","fontSize":15.5,"align":"center","baseline":"alphabetic","color":"#111"},"encoding":{"x":{"field":"xm","type":"quantitative"},"y":{"datum":-16.0},"text":{"field":"label"}}}
]}
]
}
